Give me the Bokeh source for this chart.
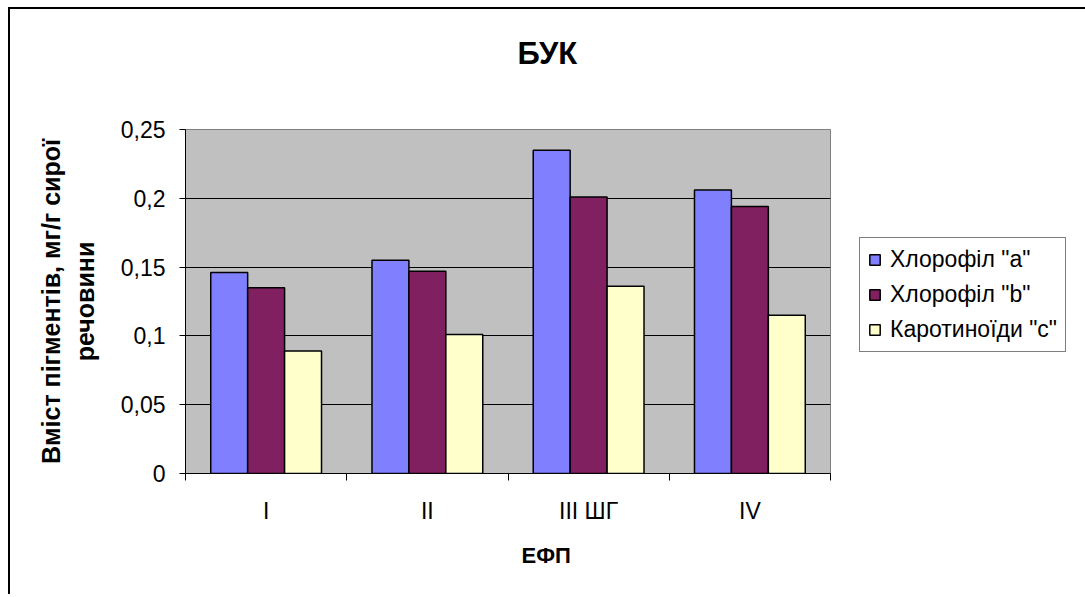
from bokeh.plotting import figure
from bokeh.models import (Range1d, FixedTicker, CustomJSTickFormatter, Legend, LegendItem,
                          ColumnDataSource, Title)
from bokeh.embed import file_html
from bokeh.resources import INLINE

categories = ["I", "II", "III ШГ", "IV"]
series_names = ['Хлорофіл "a"', 'Хлорофіл "b"', 'Каротиноїди "c"']
chl_a = [0.146, 0.155, 0.235, 0.206]
chl_b = [0.135, 0.147, 0.201, 0.194]
carot_c = [0.089, 0.101, 0.136, 0.115]
y_ticks = [0, 0.05, 0.1, 0.15, 0.2, 0.25]

colors = ["#8080FF", "#802060", "#FFFFCC"]
FONT = "Liberation Sans"

p = figure(output_backend="svg", toolbar_location=None,
           frame_width=645, frame_height=344,
           min_border_left=175, min_border_top=120, min_border_right=250, min_border_bottom=121,
           x_range=Range1d(0, 4), y_range=Range1d(0, 0.25),
           background_fill_color="#C0C0C0", border_fill_color="white")
p.styles = {"margin-left": "8px", "margin-top": "7px",
            "border-left": "2px solid black", "border-top": "2px solid black"}

centers = [i + 0.5 for i in range(len(categories))]
bw = 0.229
renderers = []
for k, vals in enumerate([chl_a, chl_b, carot_c]):
    xs = [c + (k - 1) * bw for c in centers]
    src = ColumnDataSource(dict(x=xs, top=vals))
    r = p.vbar(x="x", top="top", bottom=0, width=bw, source=src,
               fill_color=colors[k], line_color="black", line_width=1.5)
    renderers.append(r)

# x axis: labels at category centres, ticks at boundaries
p.xaxis.ticker = FixedTicker(ticks=centers, minor_ticks=[0, 1, 2, 3, 4])
p.xaxis.major_label_overrides = {c: lab for c, lab in zip(centers, categories)}
p.xaxis.major_tick_line_color = None
p.xaxis.minor_tick_in = 0
p.xaxis.minor_tick_out = 7
p.xaxis.minor_tick_line_color = "black"
p.xaxis.axis_line_color = "black"
p.xaxis.major_label_text_font = FONT
p.xaxis.major_label_text_font_size = "23px"
p.xaxis.major_label_text_color = "black"
p.xaxis.major_label_standoff = 17

# x-axis title, placed like the reference (right of the frame centre)
x_title = Title(text="ЕФП", align="left", offset=336, standoff=28,
                text_font=FONT, text_font_size="22px", text_font_style="bold",
                text_color="black")
p.add_layout(x_title, "below")

p.yaxis.ticker = FixedTicker(ticks=y_ticks, minor_ticks=[])
p.yaxis.formatter = CustomJSTickFormatter(code="""
let s = tick.toFixed(2).replace(/0+$/, '').replace(/\\.$/, '');
return s.replace('.', ',');
""")
p.yaxis.major_tick_in = 0
p.yaxis.major_tick_out = 6
p.yaxis.major_tick_line_color = "black"
p.yaxis.axis_line_color = "black"
p.yaxis.major_label_text_font = FONT
p.yaxis.major_label_text_font_size = "23px"
p.yaxis.major_label_text_color = "black"
p.yaxis.major_label_standoff = 14
p.yaxis.axis_label = "Вміст пігментів, мг/г сирої\nречовини"
p.yaxis.axis_label_text_font = FONT
p.yaxis.axis_label_text_font_style = "bold"
p.yaxis.axis_label_text_font_size = "25px"
p.yaxis.axis_label_text_color = "black"
p.yaxis.axis_label_standoff = 19

p.xgrid.grid_line_color = None
p.ygrid.ticker = FixedTicker(ticks=y_ticks)
p.ygrid.grid_line_color = "black"
p.ygrid.grid_line_width = 1
p.outline_line_color = "#808080"
p.outline_line_width = 1

p.title.text = "БУК\n"
p.title.align = "left"
p.title.offset = 332
p.title.text_font = FONT
p.title.text_font_size = "31px"
p.title.text_font_style = "bold"
p.title.text_color = "black"
p.title.standoff = 48

legend = Legend(items=[LegendItem(label=n, renderers=[r]) for n, r in zip(series_names, renderers)],
                location=(29, 121), orientation="vertical")
legend.label_text_font = FONT
legend.label_text_font_size = "23px"
legend.label_text_color = "black"
legend.glyph_width = 13
legend.glyph_height = 13
legend.label_height = 25
legend.spacing = 8
legend.padding = 8
legend.margin = 0
legend.label_standoff = 9
legend.border_line_color = "black"
legend.border_line_width = 1
legend.background_fill_color = "white"
legend.background_fill_alpha = 1
p.add_layout(legend, "right")

open("out.html", "w").write(file_html(p, INLINE))
